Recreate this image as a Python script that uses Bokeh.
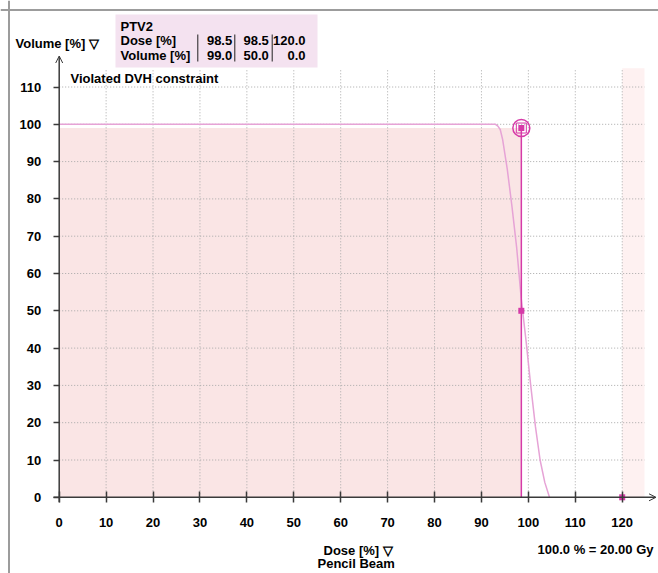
from bokeh.plotting import figure
from bokeh.models import Range1d, LinearAxis, FixedTicker, Arrow, OpenHead, Span
from bokeh.core.properties import value
from bokeh.embed import file_html
from bokeh.resources import INLINE

# ---------------- data ----------------
structure = "PTV2"
dvh_dose = [0, 93.0, 93.5, 94.0, 94.5, 95.5, 96.5, 97.5, 98.5, 99.5, 100.5, 101.5, 102.5, 103.5, 104.5]
dvh_volume = [100, 100, 99.5, 98.6, 96, 88, 78, 67, 53, 42, 30, 19, 10, 4, 0]
constraint_dose = [98.5, 98.5, 120.0]
constraint_volume = [99.0, 50.0, 0.0]
x_ticks = [0, 10, 20, 30, 40, 50, 60, 70, 80, 90, 100, 110, 120]
y_ticks = [0, 10, 20, 30, 40, 50, 60, 70, 80, 90, 100, 110]
x_max = 124.75
y_max = 115.0
ref_pct = 100.0
ref_gy = 20.00
algorithm = "Pencil Beam"

# ---------------- layout helpers ----------------
W, H = 658, 573
X0, XS = 58.7, 4.6917     # page px of dose 0, px per %
Y0, YS = 496.8, 3.73      # page px of volume 0, px per %


def dx(px):
    return (px - X0) / XS


def dy(py):
    return (Y0 - py) / YS


FONT = value("Liberation Sans")
MAG = "#D63AA8"
AX = "#3a3a3a"

p = figure(width=W, height=H, output_backend="svg", toolbar_location=None,
           x_range=Range1d(dx(0), dx(W)), y_range=Range1d(dy(H), dy(0)),
           x_axis_location=None, y_axis_location=None, min_border=0,
           outline_line_color=None, background_fill_color="white",
           border_fill_color="white")
p.grid.visible = False

# frame borders
p.add_layout(Span(location=dx(8.5), dimension="height", line_color="#9c9c9c", line_width=2))
p.add_layout(Span(location=dy(9.5), dimension="width", line_color="#9c9c9c", line_width=2))

# shaded regions
p.quad(left=0, right=constraint_dose[0], bottom=0, top=constraint_volume[0],
       fill_color="#FAE5E5", line_color=None)
p.quad(left=constraint_dose[2], right=x_max, bottom=0, top=y_max,
       fill_color="#FEF1F1", line_color=None)

# grid
p.segment(x0=x_ticks[1:], y0=[0] * (len(x_ticks) - 1), x1=x_ticks[1:], y1=[y_max] * (len(x_ticks) - 1),
          line_color="#a8a8a8", line_dash="1 2", line_width=1)
p.segment(x0=[0] * (len(y_ticks) - 1), y0=y_ticks[1:], x1=[x_max] * (len(y_ticks) - 1), y1=y_ticks[1:],
          line_color="#a8a8a8", line_dash="1 2", line_width=1)

# DVH curve
p.line(dvh_dose, dvh_volume, line_color="#E6A3D6", line_width=1.5)

# constraint line and markers
p.segment(x0=[constraint_dose[0]], y0=[0], x1=[constraint_dose[0]], y1=[constraint_volume[0]],
          line_color=MAG, line_width=1.5)
p.scatter(constraint_dose, constraint_volume, marker="square", size=6,
          fill_color=MAG, line_color=None)
p.scatter([constraint_dose[0]], [constraint_volume[0]], marker="circle", size=17,
          fill_color=None, line_color=MAG, line_width=1.5)
p.scatter([constraint_dose[0]], [constraint_volume[0]], marker="square", size=10,
          fill_color=None, line_color=MAG, line_width=1)

# axes
common = dict(fixed_location=0, axis_line_color=None, major_tick_line_color=AX,
              major_tick_line_width=1.5, minor_tick_line_color=None,
              major_label_text_font="Liberation Sans", major_label_text_font_style="bold",
              major_label_text_font_size="13px", major_label_text_color="black")
xa = LinearAxis(ticker=FixedTicker(ticks=x_ticks), major_tick_in=6, major_tick_out=5,
                major_label_standoff=16, **common)
ya = LinearAxis(ticker=FixedTicker(ticks=y_ticks), major_tick_in=0, major_tick_out=6,
                major_label_standoff=12, **common)
p.add_layout(xa, "below")
p.add_layout(ya, "left")

p.add_layout(Arrow(x_start=dx(53), y_start=0, x_end=dx(655.5), y_end=0,
                   line_color=AX, line_width=1.5,
                   end=OpenHead(size=7, line_color=AX, line_width=1)))
p.add_layout(Arrow(x_start=0, y_start=dy(501.7), x_end=0, y_end=dy(55.5),
                   line_color=AX, line_width=1.5,
                   end=OpenHead(size=7, line_color=AX, line_width=1)))

txt = dict(text_font=FONT, text_font_style="bold", text_font_size="13px",
           text_color="black", text_baseline="middle")

# table box
p.quad(left=dx(115), right=dx(317), bottom=dy(67), top=dy(14),
       fill_color="#F4E2F0", line_color=None)
p.segment(x0=[dx(197.3), dx(234.3), dx(271.7)], y0=[dy(61)] * 3,
          x1=[dx(197.3), dx(234.3), dx(271.7)], y1=[dy(34)] * 3,
          line_color="#202020", line_width=1)
p.text(x=[dx(120)] * 3, y=[dy(25.7), dy(40), dy(55)],
       text=[structure, "Dose [%]", "Volume [%]"], text_align="left", **txt)
col_right = [dx(231.7), dx(268.3), dx(305)]
p.text(x=col_right, y=[dy(40)] * 3, text=[f"{d:.1f}" for d in constraint_dose],
       text_align="right", **txt)
p.text(x=col_right, y=[dy(55)] * 3, text=[f"{v:.1f}" for v in constraint_volume],
       text_align="right", **txt)

# labels
p.text(x=[dx(15)], y=[dy(42.7)], text=["Volume [%] \u25bd"], text_align="left", **txt)
p.text(x=[dx(70)], y=[dy(77.5)], text=["Violated DVH constraint"], text_align="left", **txt)
p.text(x=[dx(323)], y=[dy(549.5)], text=["Dose [%] \u25bd"], text_align="left", **txt)
p.text(x=[dx(317)], y=[dy(563)], text=[algorithm], text_align="left", **txt)
p.text(x=[dx(653)], y=[dy(549.3)], text=[f"{ref_pct:.1f} % = {ref_gy:.2f} Gy"],
       text_align="right", **txt)

open("out.html", "w").write(file_html(p, INLINE))
